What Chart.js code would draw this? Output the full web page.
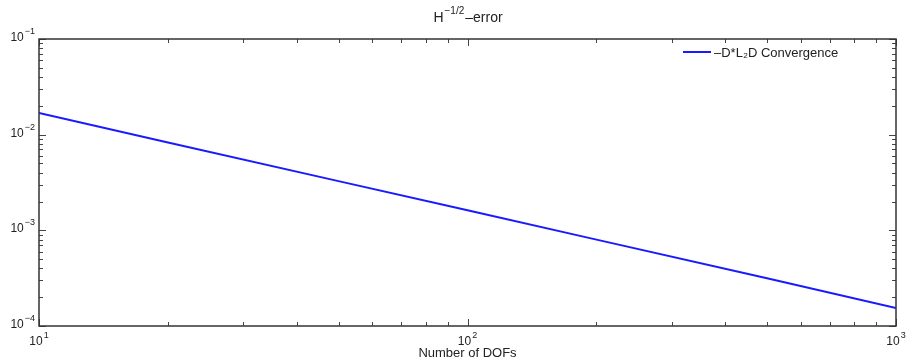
<!DOCTYPE html>
<html>
<head>
<meta charset="utf-8">
<script src="https://cdn.jsdelivr.net/npm/chart.js@4.4.1/dist/chart.umd.min.js"></script>
<style>
  html, body { margin: 0; padding: 0; background: #fff; }
  #wrap { width: 917px; height: 361px; }
</style>
</head>
<body>
<div id="wrap"><canvas id="errChart"></canvas></div>
<script>
// values (log-log)
const dofs = [10, 20, 50, 100, 200, 500, 1000];
const errors = [1.69e-2, 8.3e-3, 3.27e-3, 1.62e-3, 8.0e-4, 3.15e-4, 1.54e-4];
const seriesLabel = '\u2013D*L\u2082D Convergence';
const xTitle = 'Number of DOFs';
const xDecades = [1, 2, 3];
const yDecades = [-4, -3, -2, -1];

const FONT = '"Liberation Sans", Arial, sans-serif';

function minorValues(decades) {
    const out = [];
    decades.forEach(e => {
        for (let m = 1; m <= 9; m++) out.push({ v: m * Math.pow(10, e), major: m === 1 });
    });
    return out;
}

// "10" with a raised exponent
function drawPow(ctx, e, x, y, align) {
    ctx.font = '12px ' + FONT;
    const wb = ctx.measureText('10').width;
    ctx.font = '9px ' + FONT;
    const txt = String(e).replace('-', '\u2212');
    const we = ctx.measureText(txt).width + 1;
    let x0 = align === 'right' ? x - wb - we : x - (wb + we) / 2;
    ctx.font = '12px ' + FONT;
    ctx.fillText('10', x0, y);
    ctx.font = '9px ' + FONT;
    ctx.fillText(txt, x0 + wb + 1, y - 7);
}

const frame = {
    id: 'frame',
    afterDraw(chart) {
        const ctx = chart.ctx;
        const a = chart.chartArea;
        const xs = chart.scales.x, ys = chart.scales.y;
        ctx.save();
        ctx.strokeStyle = '#444';
        ctx.lineWidth = 1;
        // inner tick marks on all four sides
        minorValues(xDecades).forEach(t => {
            if (t.v > xs.max) return;
            const px = Math.round(xs.getPixelForValue(t.v)) + 0.5;
            const len = t.major ? 7 : 4;
            ctx.beginPath();
            ctx.moveTo(px, a.bottom); ctx.lineTo(px, a.bottom - len);
            ctx.moveTo(px, a.top); ctx.lineTo(px, a.top + len);
            ctx.stroke();
        });
        minorValues(yDecades).forEach(t => {
            if (t.v > ys.max) return;
            const py = Math.round(ys.getPixelForValue(t.v)) + 0.5;
            const len = t.major ? 7 : 4;
            ctx.beginPath();
            ctx.moveTo(a.left, py); ctx.lineTo(a.left + len, py);
            ctx.moveTo(a.right, py); ctx.lineTo(a.right - len, py);
            ctx.stroke();
        });
        ctx.strokeStyle = '#333';
        ctx.lineWidth = 1.5;
        ctx.strokeRect(a.left, a.top, a.right - a.left, a.bottom - a.top);

        ctx.fillStyle = '#222';
        ctx.textBaseline = 'alphabetic';
        ctx.textAlign = 'left';

        // tick labels
        xDecades.forEach(e => {
            drawPow(ctx, e, xs.getPixelForValue(Math.pow(10, e)), 345, 'center');
        });
        yDecades.forEach(e => {
            drawPow(ctx, e, 35, ys.getPixelForValue(Math.pow(10, e)) + 2, 'right');
        });

        // title H^{-1/2}-error
        const big = '14px ' + FONT;
        const small = '10px ' + FONT;
        ctx.font = big;
        const wH = ctx.measureText('H').width;
        const wE = ctx.measureText('\u2013error').width;
        ctx.font = small;
        const wS = ctx.measureText('\u22121/2').width + 1;
        let x = (a.left + a.right) / 2 - (wH + wS + wE) / 2;
        ctx.font = big;
        ctx.fillText('H', x, 22);
        x += wH + 1;
        ctx.font = small;
        ctx.fillText('\u22121/2', x, 14);
        x += wS;
        ctx.font = big;
        ctx.fillText('\u2013error', x, 22);

        // legend
        const ds = chart.data.datasets[0];
        ctx.strokeStyle = ds.borderColor;
        ctx.lineWidth = 2;
        ctx.beginPath();
        ctx.moveTo(683, 52); ctx.lineTo(711, 52);
        ctx.stroke();
        ctx.fillStyle = '#222';
        ctx.font = '13px ' + FONT;
        ctx.fillText(ds.label, 714, 57);
        ctx.restore();
    }
};

const ctx = document.getElementById('errChart').getContext('2d');
new Chart(ctx, {
    type: 'line',
    data: {
        datasets: [{
            label: seriesLabel,
            data: dofs.map((d, i) => ({ x: d, y: errors[i] })),
            borderColor: '#1a1aff',
            borderWidth: 2,
            pointRadius: 0,
            tension: 0,
            fill: false
        }]
    },
    options: {
        responsive: true,
        maintainAspectRatio: false,
        animation: false,
        layout: { padding: { left: 0, right: 21, top: 39, bottom: 0 } },
        plugins: {
            legend: { display: false },
            title: { display: false },
            tooltip: { enabled: false }
        },
        scales: {
            x: {
                type: 'logarithmic',
                min: 10,
                max: 1000,
                grid: { display: false, drawTicks: false },
                border: { display: false },
                ticks: { display: false },
                title: {
                    display: true,
                    text: xTitle,
                    color: '#222',
                    padding: { top: 0, bottom: 0 },
                    font: { size: 13, family: FONT }
                },
                afterFit: s => { s.height = 35; }
            },
            y: {
                type: 'logarithmic',
                min: 1e-4,
                max: 1e-1,
                grid: { display: false, drawTicks: false },
                border: { display: false },
                ticks: { display: false },
                afterFit: s => { s.width = 39; }
            }
        }
    },
    plugins: [frame]
});
</script>
</body>
</html>
